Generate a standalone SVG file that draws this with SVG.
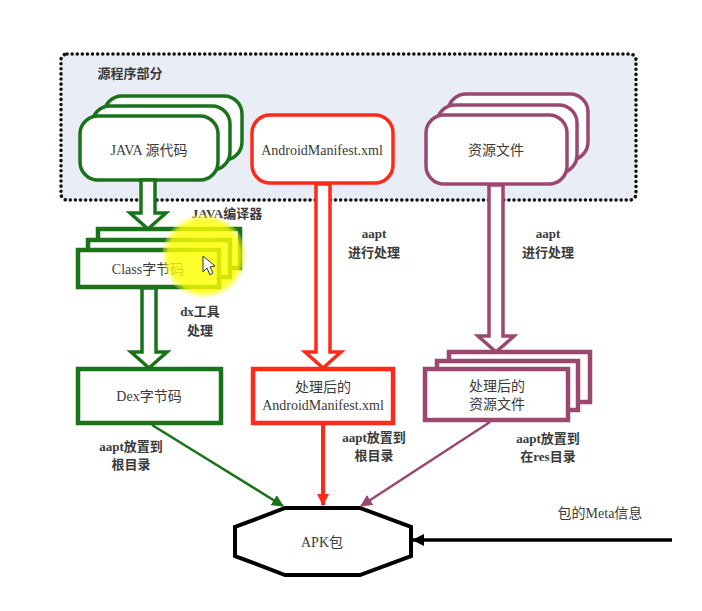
<svg xmlns="http://www.w3.org/2000/svg" width="702" height="611" viewBox="0 0 702 611">
<style>
.t{font-family:"Liberation Serif","Noto Sans CJK SC",serif;font-size:14px;fill:#3a3a3a;text-anchor:middle}
.b{font-weight:bold;font-size:13px}
.g{stroke:#1a721a}
.r{stroke:#ff2a1a}
.m{stroke:#9a4870}
.box{fill:#fff;stroke-width:3.5}
.sq{fill:#fff;stroke-width:4.5}
.ha{fill:#fff;stroke-width:3.5;stroke-linejoin:miter}
.ln{fill:none;stroke-width:2.5}
.thick{stroke-width:4}
</style>
<defs>
<marker id="ag" markerWidth="12" markerHeight="12" refX="11" refY="6" orient="auto" markerUnits="userSpaceOnUse"><path d="M0,0 L12,6 L0,12 z" fill="#1a721a"/></marker>
<marker id="ar" markerWidth="12" markerHeight="12" refX="11" refY="6" orient="auto" markerUnits="userSpaceOnUse"><path d="M0,0 L12,6 L0,12 z" fill="#ff2a1a"/></marker>
<marker id="am" markerWidth="12" markerHeight="12" refX="11" refY="6" orient="auto" markerUnits="userSpaceOnUse"><path d="M0,0 L12,6 L0,12 z" fill="#9a4870"/></marker>
<marker id="ak" markerWidth="12" markerHeight="12" refX="11" refY="6" orient="auto" markerUnits="userSpaceOnUse"><path d="M0,0 L12,6 L0,12 z" fill="#000"/></marker>
<radialGradient id="yl" cx="0.5" cy="0.5" r="0.5">
<stop offset="0" stop-color="#ffff00" stop-opacity="0.85"/>
<stop offset="0.85" stop-color="#ffff00" stop-opacity="0.8"/>
<stop offset="1" stop-color="#ffff40" stop-opacity="0.2"/>
</radialGradient>
</defs>
<rect width="702" height="611" fill="#fff"/>

<g id="source-group">
<rect x="61" y="54" width="575" height="146" rx="6" fill="#e9eef6" stroke="#111" stroke-width="3.5" stroke-dasharray="0.1 5" stroke-linecap="round"/>
<text class="t b" x="130" y="78">源程序部分</text>
</g>

<g id="java-src">
<rect class="box g" x="104" y="96" width="138" height="64" rx="18"/>
<rect class="box g" x="92" y="106" width="138" height="64" rx="18"/>
<rect class="box g" x="80" y="116" width="138" height="64" rx="18"/>
<text class="t" x="149" y="155">JAVA 源代码</text>
</g>

<g id="manifest-src">
<rect class="box r" x="252" y="115" width="141" height="68" rx="18"/>
<text class="t" x="322" y="155">AndroidManifest.xml</text>
</g>

<g id="res-src">
<rect class="box m" x="448" y="94" width="140" height="66" rx="18"/>
<rect class="box m" x="437" y="105" width="140" height="68" rx="18"/>
<rect class="box m" x="426" y="115" width="141" height="69" rx="18"/>
<text class="t" x="496" y="155">资源文件</text>
</g>

<g id="class-bytecode">
<rect class="sq g" x="98" y="229" width="142" height="39"/>
<rect class="sq g" x="88" y="240" width="142" height="37"/>
<rect class="sq g" x="78" y="250" width="141" height="37"/>
<text class="t" x="148" y="274">Class字节码</text>
</g>

<g id="dex-bytecode">
<rect class="sq g" x="78" y="369" width="143" height="54"/>
<text class="t" x="149" y="401">Dex字节码</text>
</g>

<g id="manifest-out">
<rect class="sq r" x="253" y="369" width="140" height="54"/>
<text class="t" x="323" y="392">处理后的</text>
<text class="t" x="323" y="410">AndroidManifest.xml</text>
</g>

<g id="res-out">
<rect class="sq m" x="449" y="352" width="141" height="50"/>
<rect class="sq m" x="437" y="361" width="141" height="49"/>
<rect class="sq m" x="425" y="369" width="143" height="51"/>
<text class="t" x="497" y="391">处理后的</text>
<text class="t" x="497" y="409">资源文件</text>
</g>

<g id="apk">
<polygon points="285,508 360,508 411,527 411,556 360,575 285,575 235,556 235,527" fill="#fff" stroke="#000" stroke-width="4"/>
<text class="t" x="322" y="547">APK包</text>
</g>

<g id="connectors">
<polygon class="ha g" points="141,180 155,180 155,213 166,213 148,229 130,213 141,213"/>
<polygon class="ha g" points="142,288 156,288 156,352 167,352 149,368 131,352 142,352"/>
<polygon class="ha r" points="316,184 330,184 330,352 341,352 323,368 305,352 316,352"/>
<polygon class="ha m" points="489,185 503,185 503,336 514,336 496,352 478,336 489,336"/>
<line class="ln g" x1="152" y1="425" x2="283" y2="506" marker-end="url(#ag)"/>
<line class="ln r thick" x1="323" y1="425" x2="323" y2="505" marker-end="url(#ar)"/>
<line class="ln m" x1="490" y1="422" x2="361" y2="506" marker-end="url(#am)"/>
<line x1="672" y1="540" x2="413" y2="540" stroke="#000" stroke-width="3.5" marker-end="url(#ak)"/>
</g>

<g id="labels">
<text class="t b" x="227" y="218">JAVA编译器</text>
<text class="t b" x="200" y="316">dx工具</text>
<text class="t b" x="200" y="335">处理</text>
<text class="t b" x="374" y="238">aapt</text>
<text class="t b" x="374" y="257">进行处理</text>
<text class="t b" x="548" y="238">aapt</text>
<text class="t b" x="548" y="257">进行处理</text>
<text class="t b" x="131" y="451">aapt放置到</text>
<text class="t b" x="131" y="469">根目录</text>
<text class="t b" x="374" y="442">aapt放置到</text>
<text class="t b" x="374" y="460">根目录</text>
<text class="t b" x="548" y="443">aapt放置到</text>
<text class="t b" x="548" y="461">在res目录</text>
<text class="t" x="600" y="518">包的Meta信息</text>
</g>

<g id="highlight">
<circle cx="204" cy="256" r="42" fill="url(#yl)"/>
<polygon points="203,256 203,272 207,268 210,275 213,273 210,267 215,266" fill="#fff" stroke="#333" stroke-width="1"/>
</g>
</svg>
